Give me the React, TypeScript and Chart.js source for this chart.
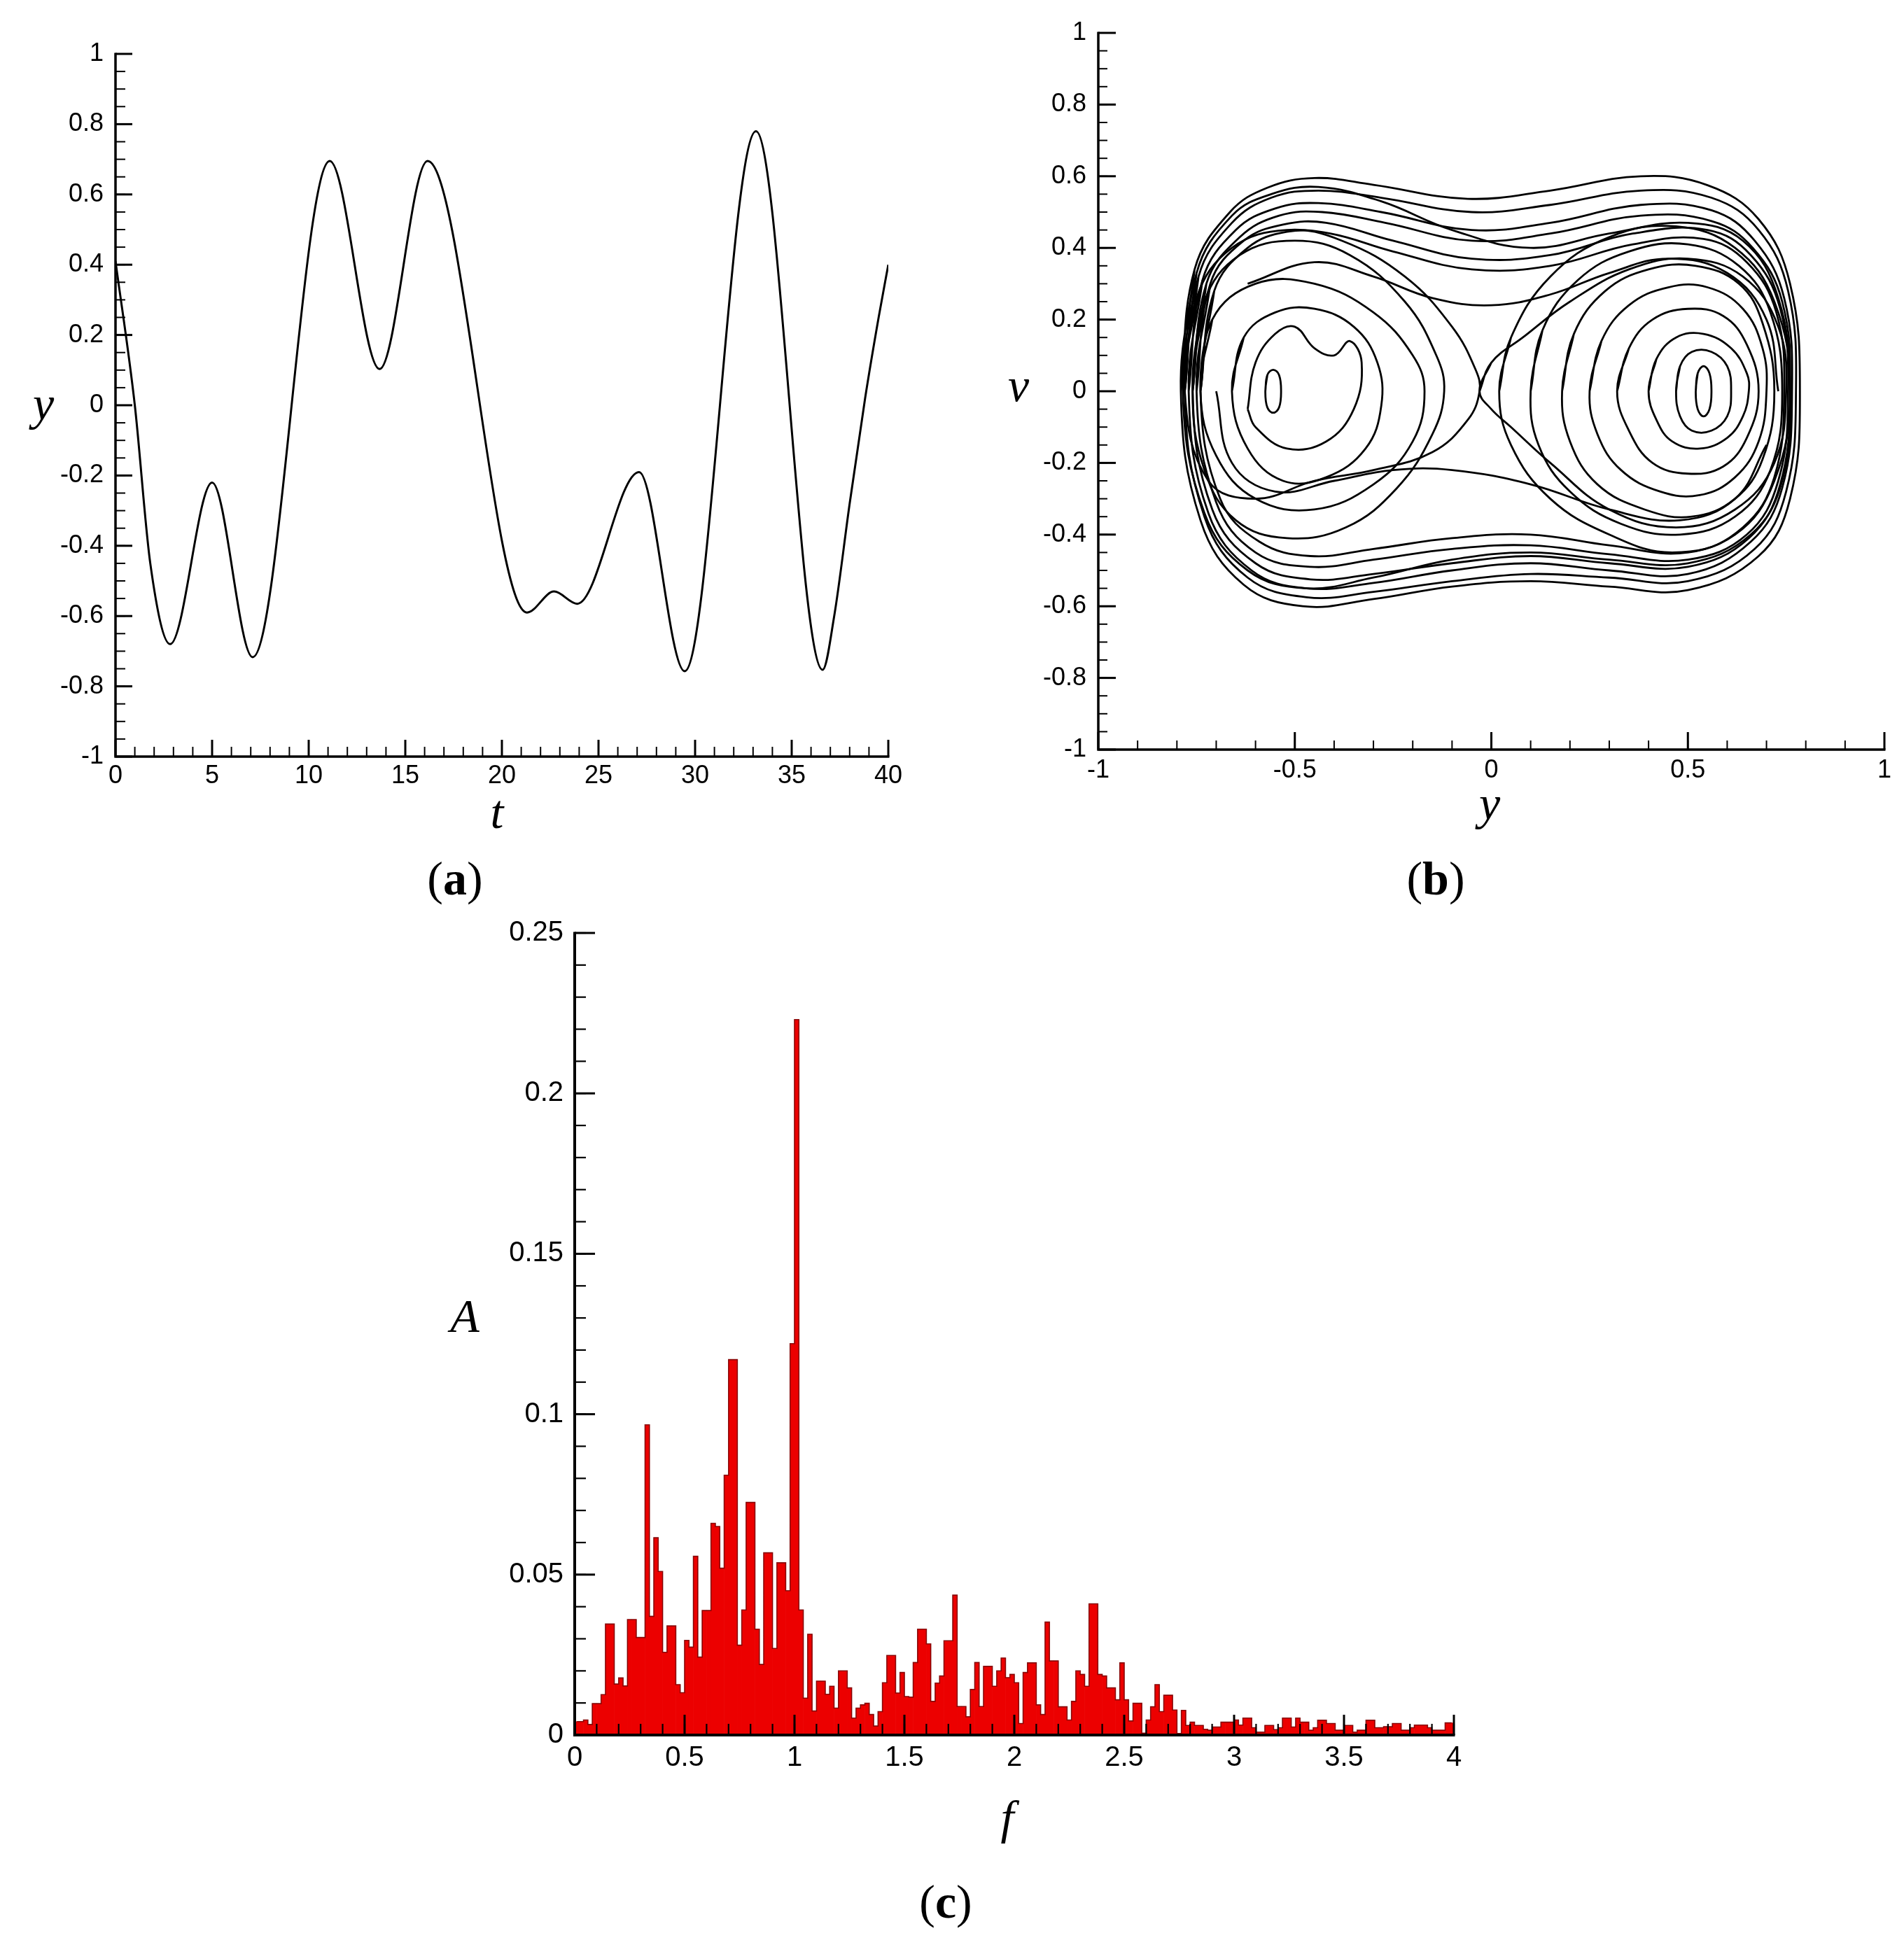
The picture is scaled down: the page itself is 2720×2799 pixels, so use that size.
import React, { useEffect, useRef } from 'react';
import { Chart, registerables } from 'chart.js';

Chart.register(...registerables);

const TICK_FONT = "'Liberation Sans Narrow', 'Arial Narrow', 'Liberation Sans', Arial, sans-serif";
const SERIF = "'Liberation Serif', 'Times New Roman', serif";

// ---------- Panel (a): time history y(t) ----------
const T_KNOTS = [0, 1.0, 1.8, 2.83, 5.0, 7.1, 11.09, 13.67, 16.15, 21.3, 22.7, 23.9, 27.1, 29.46, 33.15, 36.6, 37.2, 38.0, 38.8, 39.5, 40];
const Y_KNOTS = [0.41, 0.0, -0.45, -0.68, -0.22, -0.717, 0.695, 0.103, 0.695, -0.59, -0.53, -0.565, -0.19, -0.757, 0.78, -0.753, -0.6, -0.28, 0.02, 0.25, 0.4];
const A_X_TICKS = [0, 40, 5];
const A_Y_TICKS = [-1, 1, 0.2];

// ---------- Panel (b): phase portrait (y, v) ----------
const PEANUT_LOOPS: number[][][] = [
  [[-0.79, 0], [-0.755, 0.34], [-0.665, 0.5], [-0.57, 0.568], [-0.45, 0.595], [-0.3, 0.576], [-0.06, 0.537], [0.15, 0.56], [0.38, 0.6], [0.55, 0.575], [0.68, 0.48], [0.76, 0.3], [0.785, 0], [0.76, -0.3], [0.68, -0.46], [0.5, -0.555], [0.3, -0.545], [0.1, -0.53], [-0.1, -0.545], [-0.3, -0.58], [-0.48, -0.6], [-0.63, -0.54], [-0.74, -0.36], [-0.79, 0], [-0.755, 0.34]],
  [[-0.785, 0], [-0.75, 0.33], [-0.66, 0.49], [-0.56, 0.55], [-0.44, 0.57], [-0.28, 0.53], [-0.1, 0.45], [0.1, 0.4], [0.3, 0.44], [0.5, 0.47], [0.64, 0.42], [0.73, 0.26], [0.76, 0], [0.74, -0.25], [0.66, -0.4], [0.5, -0.48], [0.3, -0.47], [0.1, -0.45], [-0.1, -0.47], [-0.3, -0.52], [-0.47, -0.55], [-0.62, -0.5], [-0.73, -0.34], [-0.785, 0], [-0.75, 0.33]],
  [[-0.78, 0], [-0.745, 0.32], [-0.66, 0.47], [-0.56, 0.54], [-0.44, 0.56], [-0.28, 0.54], [-0.05, 0.5], [0.15, 0.52], [0.38, 0.56], [0.56, 0.54], [0.68, 0.45], [0.755, 0.28], [0.775, 0], [0.75, -0.28], [0.67, -0.44], [0.5, -0.53], [0.3, -0.52], [0.1, -0.51], [-0.1, -0.53], [-0.3, -0.56], [-0.47, -0.575], [-0.62, -0.52], [-0.73, -0.35], [-0.78, 0], [-0.745, 0.32]],
  [[-0.77, 0], [-0.735, 0.31], [-0.65, 0.45], [-0.55, 0.51], [-0.44, 0.525], [-0.28, 0.5], [-0.05, 0.45], [0.15, 0.47], [0.38, 0.52], [0.56, 0.505], [0.67, 0.42], [0.745, 0.26], [0.765, 0], [0.74, -0.27], [0.66, -0.42], [0.5, -0.51], [0.3, -0.5], [0.1, -0.48], [-0.1, -0.5], [-0.3, -0.535], [-0.47, -0.55], [-0.61, -0.5], [-0.72, -0.34], [-0.77, 0], [-0.735, 0.31]],
  [[-0.76, 0], [-0.725, 0.3], [-0.64, 0.43], [-0.54, 0.49], [-0.43, 0.5], [-0.27, 0.47], [-0.05, 0.42], [0.15, 0.44], [0.38, 0.49], [0.56, 0.475], [0.665, 0.4], [0.74, 0.25], [0.76, 0], [0.735, -0.26], [0.655, -0.41], [0.5, -0.49], [0.3, -0.48], [0.1, -0.46], [-0.1, -0.48], [-0.3, -0.51], [-0.46, -0.525], [-0.6, -0.48], [-0.71, -0.33], [-0.76, 0], [-0.725, 0.3]],
  [[-0.75, 0], [-0.715, 0.3], [-0.63, 0.42], [-0.53, 0.465], [-0.42, 0.47], [-0.25, 0.42], [-0.05, 0.37], [0.15, 0.38], [0.36, 0.44], [0.55, 0.45], [0.66, 0.38], [0.735, 0.23], [0.755, 0], [0.73, -0.25], [0.65, -0.4], [0.5, -0.47], [0.3, -0.455], [0.1, -0.43], [-0.1, -0.44], [-0.3, -0.47], [-0.46, -0.49], [-0.6, -0.45], [-0.7, -0.31], [-0.75, 0], [-0.715, 0.3]],
  [[-0.74, 0], [-0.705, 0.28], [-0.62, 0.4], [-0.52, 0.445], [-0.41, 0.44], [-0.25, 0.39], [-0.05, 0.34], [0.15, 0.35], [0.36, 0.41], [0.54, 0.425], [0.65, 0.36], [0.725, 0.22], [0.745, 0], [0.72, -0.24], [0.64, -0.38], [0.5, -0.45], [0.3, -0.43], [0.1, -0.4], [-0.1, -0.41], [-0.3, -0.44], [-0.46, -0.46], [-0.59, -0.42], [-0.69, -0.3], [-0.74, 0], [-0.705, 0.28]],
];
const LEFT_WELL_LOOPS: number[][][] = [
  [[-0.78, 0], [-0.75, 0.26], [-0.66, 0.4], [-0.52, 0.45], [-0.38, 0.42], [-0.22, 0.32], [-0.1, 0.18], [-0.04, 0.06], [-0.03, 0], [-0.06, -0.08], [-0.15, -0.17], [-0.3, -0.22], [-0.45, -0.25], [-0.6, -0.3], [-0.72, -0.25], [-0.78, 0], [-0.75, 0.26]],
  [[-0.76, 0], [-0.73, 0.25], [-0.64, 0.38], [-0.5, 0.42], [-0.36, 0.38], [-0.22, 0.25], [-0.14, 0.1], [-0.12, 0], [-0.15, -0.12], [-0.24, -0.27], [-0.37, -0.38], [-0.52, -0.41], [-0.65, -0.36], [-0.73, -0.22], [-0.76, 0], [-0.73, 0.25]],
  [[-0.74, 0], [-0.71, 0.2], [-0.6, 0.3], [-0.45, 0.3], [-0.3, 0.22], [-0.2, 0.1], [-0.17, 0], [-0.2, -0.14], [-0.3, -0.26], [-0.45, -0.33], [-0.6, -0.3], [-0.7, -0.18], [-0.74, 0], [-0.71, 0.2]],
  [[-0.66, 0], [-0.63, 0.15], [-0.55, 0.22], [-0.45, 0.23], [-0.35, 0.18], [-0.29, 0.08], [-0.28, -0.04], [-0.32, -0.16], [-0.42, -0.24], [-0.53, -0.25], [-0.62, -0.16], [-0.66, 0], [-0.63, 0.15]],
  [[-0.62, -0.05], [-0.6, 0.08], [-0.55, 0.16], [-0.5, 0.18], [-0.45, 0.12], [-0.4, 0.1], [-0.36, 0.14], [-0.33, 0.08], [-0.35, -0.05], [-0.42, -0.14], [-0.52, -0.16], [-0.6, -0.1], [-0.62, -0.05]],
  [[-0.575, 0], [-0.57, 0.045], [-0.555, 0.06], [-0.54, 0.045], [-0.535, 0], [-0.54, -0.045], [-0.555, -0.06], [-0.57, -0.045], [-0.575, 0], [-0.57, 0.045]],
];
const RIGHT_WELL_LOOPS: number[][][] = [
  [[-0.03, 0], [0.0, 0.08], [0.08, 0.15], [0.2, 0.25], [0.35, 0.34], [0.5, 0.37], [0.64, 0.32], [0.73, 0.18], [0.75, 0], [0.72, -0.2], [0.62, -0.33], [0.47, -0.38], [0.3, -0.33], [0.15, -0.2], [0.05, -0.1], [0.0, -0.05], [-0.03, 0], [0.0, 0.08]],
  [[0.02, 0], [0.05, 0.15], [0.15, 0.32], [0.3, 0.43], [0.47, 0.46], [0.62, 0.4], [0.72, 0.25], [0.76, 0], [0.72, -0.25], [0.62, -0.4], [0.46, -0.45], [0.3, -0.4], [0.15, -0.3], [0.05, -0.15], [0.02, 0], [0.05, 0.15]],
  [[0.1, 0], [0.13, 0.17], [0.22, 0.31], [0.35, 0.39], [0.5, 0.41], [0.63, 0.35], [0.71, 0.22], [0.74, 0], [0.71, -0.22], [0.62, -0.35], [0.48, -0.4], [0.33, -0.37], [0.2, -0.28], [0.12, -0.15], [0.1, 0], [0.13, 0.17]],
  [[0.18, 0], [0.21, 0.16], [0.29, 0.28], [0.4, 0.34], [0.52, 0.35], [0.63, 0.3], [0.69, 0.19], [0.72, 0], [0.69, -0.19], [0.62, -0.3], [0.51, -0.35], [0.39, -0.33], [0.27, -0.26], [0.2, -0.14], [0.18, 0], [0.21, 0.16]],
  [[0.25, 0], [0.28, 0.14], [0.35, 0.24], [0.45, 0.29], [0.55, 0.29], [0.64, 0.23], [0.69, 0.12], [0.7, 0], [0.68, -0.14], [0.62, -0.24], [0.53, -0.29], [0.43, -0.28], [0.33, -0.22], [0.27, -0.12], [0.25, 0], [0.28, 0.14]],
  [[0.32, 0], [0.35, 0.12], [0.41, 0.2], [0.5, 0.23], [0.59, 0.21], [0.65, 0.13], [0.68, 0], [0.65, -0.13], [0.59, -0.21], [0.5, -0.23], [0.41, -0.2], [0.35, -0.11], [0.32, 0], [0.35, 0.12]],
  [[0.4, 0], [0.42, 0.09], [0.47, 0.15], [0.54, 0.16], [0.61, 0.12], [0.65, 0.05], [0.655, 0], [0.64, -0.07], [0.6, -0.13], [0.53, -0.16], [0.46, -0.14], [0.42, -0.08], [0.4, 0], [0.42, 0.09]],
  [[0.47, 0], [0.48, 0.07], [0.51, 0.11], [0.56, 0.11], [0.6, 0.07], [0.61, 0], [0.6, -0.07], [0.56, -0.11], [0.51, -0.11], [0.48, -0.07], [0.47, 0], [0.48, 0.07]],
  [[0.52, 0], [0.525, 0.05], [0.54, 0.07], [0.555, 0.05], [0.56, 0], [0.555, -0.05], [0.54, -0.07], [0.525, -0.05], [0.52, 0], [0.525, 0.05]],
];
const TRANSIT_CURVES: number[][][] = [
  [[-0.62, 0.3], [-0.45, 0.36], [-0.3, 0.32], [-0.15, 0.26], [0, 0.24], [0.15, 0.27], [0.3, 0.33], [0.45, 0.37], [0.6, 0.33], [0.7, 0.2], [0.73, 0]],
  [[0.7, -0.15], [0.62, -0.3], [0.48, -0.36], [0.3, -0.33], [0.1, -0.26], [-0.1, -0.22], [-0.25, -0.22], [-0.4, -0.25], [-0.55, -0.28], [-0.66, -0.2], [-0.7, 0]],
];
const B_X_TICKS = [-1, 1, 0.5];
const B_Y_TICKS = [-1, 1, 0.2];

// ---------- Panel (c): amplitude spectrum A(f) ----------
const F_START = 0;
const F_BIN = 0.02;
const A_0_TO_1 = [
  0.0042, 0.0042, 0.0047, 0.0033, 0.0098, 0.0098, 0.0126, 0.0346, 0.0346, 0.0159,
  0.0178, 0.0153, 0.036, 0.036, 0.0304, 0.0304, 0.0967, 0.037, 0.0615, 0.051,
  0.0258, 0.034, 0.034, 0.0157, 0.0132, 0.0295, 0.0274, 0.0557, 0.0243, 0.0388,
  0.0388, 0.066, 0.065, 0.052, 0.081, 0.117, 0.117, 0.028, 0.039, 0.0725,
  0.0725, 0.033, 0.022, 0.0568, 0.0568, 0.027, 0.0537, 0.0537, 0.045, 0.122,
];
const A_1_TO_2 = [
  0.223, 0.039, 0.0115, 0.0314, 0.0075, 0.0168, 0.0168, 0.0127, 0.0152, 0.0084,
  0.02, 0.02, 0.0147, 0.0053, 0.0084, 0.0094, 0.0099, 0.0064, 0.0028, 0.0073,
  0.0163, 0.0248, 0.0248, 0.0131, 0.0195, 0.012, 0.0118, 0.0226, 0.033, 0.033,
  0.0284, 0.0105, 0.0162, 0.0184, 0.0294, 0.0294, 0.0436, 0.0089, 0.0089, 0.0057,
  0.0142, 0.0226, 0.0089, 0.0214, 0.0214, 0.0152, 0.02, 0.024, 0.0179, 0.0189,
];
const A_2_TO_3 = [
  0.0163, 0.0036, 0.0195, 0.0225, 0.0225, 0.0094, 0.0064, 0.0352, 0.0231, 0.0231,
  0.0088, 0.0088, 0.0047, 0.0105, 0.02, 0.0189, 0.0152, 0.0409, 0.0409, 0.0189,
  0.0184, 0.0147, 0.0147, 0.011, 0.0225, 0.011, 0.0044, 0.0099, 0.0099, 0.0006,
  0.0047, 0.0088, 0.0157, 0.0073, 0.0124, 0.0124, 0.0078, 0.0005, 0.0077, 0.003,
  0.004, 0.003, 0.003, 0.0018, 0.0015, 0.0025, 0.0025, 0.004, 0.004, 0.004,
];
const A_3_TO_4 = [
  0.0047, 0.0031, 0.0053, 0.0053, 0.0023, 0.0009, 0.0009, 0.003, 0.003, 0.0017,
  0.0023, 0.0053, 0.0053, 0.0025, 0.0053, 0.004, 0.004, 0.0015, 0.0023, 0.0046,
  0.0046, 0.0036, 0.0036, 0.0015, 0.0015, 0.003, 0.003, 0.0009, 0.0015, 0.0015,
  0.0046, 0.0046, 0.0023, 0.0023, 0.0026, 0.0026, 0.0036, 0.0036, 0.0015, 0.0015,
  0.0023, 0.0031, 0.0031, 0.0031, 0.0023, 0.0015, 0.0015, 0.0015, 0.0038, 0.0038,
];
const C_X_TICKS = [0, 4, 0.5];
const C_Y_TICKS = [0, 0.25, 0.05];

// ---------- helpers ----------
const fmt = (v: number) => String(Math.round(v * 1000) / 1000);

const frameTicks = {
  id: 'frameTicks',
  afterDatasetsDraw(chart: any, _args: any, o: any) {
    const { ctx, chartArea } = chart;
    const { left, right, top, bottom } = chartArea;
    const xs = chart.scales.x;
    const ys = chart.scales.y;
    const list = (sc: any, step: number) => {
      const n = Math.round((sc.max - sc.min) / step);
      const out: number[] = [];
      for (let i = 0; i <= n; i++) out.push(sc.min + i * step);
      return out;
    };
    const seg = (x1: number, y1: number, x2: number, y2: number, w: number) => {
      ctx.lineWidth = w;
      ctx.beginPath();
      ctx.moveTo(x1, y1);
      ctx.lineTo(x2, y2);
      ctx.stroke();
    };
    ctx.save();
    ctx.strokeStyle = '#000';
    ctx.lineCap = 'butt';
    for (const v of list(xs, o.xMinor)) {
      const px = xs.getPixelForValue(v);
      seg(px, bottom, px, bottom - o.minorLen, o.minorWidth);
    }
    for (const v of list(ys, o.yMinor)) {
      const py = ys.getPixelForValue(v);
      seg(left, py, left + o.minorLen, py, o.minorWidth);
    }
    for (const t of xs.ticks) {
      const px = xs.getPixelForValue(t.value);
      seg(px, bottom, px, bottom - o.majorLen, o.majorWidth);
    }
    for (const t of ys.ticks) {
      const py = ys.getPixelForValue(t.value);
      seg(left, py, left + o.majorLen, py, o.majorWidth);
    }
    ctx.lineWidth = o.axisWidth;
    ctx.lineJoin = 'miter';
    ctx.beginPath();
    ctx.moveTo(left, top - o.majorWidth / 2);
    ctx.lineTo(left, bottom);
    ctx.lineTo(right + o.majorWidth / 2, bottom);
    ctx.stroke();
    ctx.restore();
  },
};

function axis(range: number[], size: number, pad: number, fontSize: number, isX: boolean) {
  return {
    type: 'linear',
    min: range[0],
    max: range[1],
    offset: false,
    afterFit: (s: any) => {
      if (isX) s.height = size;
      else s.width = size;
    },
    grid: { display: false, drawTicks: false },
    border: { display: false },
    ticks: {
      stepSize: range[2],
      autoSkip: false,
      maxRotation: 0,
      minRotation: 0,
      padding: pad,
      color: '#000',
      font: { family: TICK_FONT, size: fontSize },
      callback: (v: any) => fmt(Number(v)),
    },
  };
}

const baseOptions = (padding: any, tickOpts: any, scales: any) => ({
  animation: false,
  responsive: false,
  maintainAspectRatio: false,
  devicePixelRatio: 1,
  layout: { padding },
  events: [],
  plugins: {
    legend: { display: false },
    tooltip: { enabled: false },
    title: { display: false },
    frameTicks: tickOpts,
  },
  scales,
});

function makeA() {
  return {
    type: 'scatter',
    data: {
      datasets: [
        {
          data: T_KNOTS.map((t, i) => ({ x: t, y: Y_KNOTS[i] })),
          showLine: true,
          cubicInterpolationMode: 'monotone',
          borderColor: '#000',
          borderWidth: 3,
          pointRadius: 0,
          fill: false,
        },
      ],
    },
    options: baseOptions(
      { left: 0, top: 77, right: 61, bottom: 19 },
      { xMinor: 1, yMinor: 0.05, majorLen: 24, minorLen: 14, majorWidth: 3, minorWidth: 2, axisWidth: 3.5 },
      { x: axis(A_X_TICKS, 60, 6, 36, true), y: axis(A_Y_TICKS, 165, 17, 36, false) }
    ),
    plugins: [frameTicks],
  };
}

function makeB() {
  const groups = [...PEANUT_LOOPS, ...LEFT_WELL_LOOPS, ...RIGHT_WELL_LOOPS, ...TRANSIT_CURVES];
  return {
    type: 'scatter',
    data: {
      datasets: groups.map((loop) => ({
        data: loop.map((p) => ({ x: p[0], y: p[1] })),
        showLine: true,
        tension: 0.4,
        borderColor: '#000',
        borderWidth: 2.8,
        pointRadius: 0,
        fill: false,
      })),
    },
    options: baseOptions(
      { left: 0, top: 47, right: 28, bottom: 29 },
      { xMinor: 0.1, yMinor: 0.05, majorLen: 25, minorLen: 13, majorWidth: 3, minorWidth: 2, axisWidth: 3.5 },
      { x: axis(B_X_TICKS, 60, 8, 36, true), y: axis(B_Y_TICKS, 169, 17, 36, false) }
    ),
    plugins: [frameTicks],
  };
}

function makeC() {
  const amps = [...A_0_TO_1, ...A_1_TO_2, ...A_2_TO_3, ...A_3_TO_4];
  const pts = amps.map((a, i) => ({ x: F_START + (i + 0.5) * F_BIN, y: a }));
  return {
    type: 'bar',
    data: {
      datasets: [
        {
          type: 'line',
          data: pts,
          stepped: 'middle',
          borderColor: 'rgba(120,0,0,0.85)',
          borderWidth: 1.6,
          pointRadius: 0,
          fill: false,
          order: 0,
        },
        {
          data: pts,
          backgroundColor: 'rgb(236,0,0)',
          borderWidth: 0,
          barPercentage: 1,
          categoryPercentage: 1,
          order: 1,
        },
      ],
    },
    options: baseOptions(
      { left: 0, top: 73, right: 123, bottom: 21 },
      { xMinor: 0.1, yMinor: 0.01, majorLen: 29, minorLen: 16, majorWidth: 3, minorWidth: 2.2, axisWidth: 4 },
      { x: axis(C_X_TICKS, 60, 9, 40, true), y: axis(C_Y_TICKS, 221, 16, 40, false) }
    ),
    plugins: [frameTicks],
  };
}

function ChartCanvas({ x, y, w, h, make }: { x: number; y: number; w: number; h: number; make: () => any }) {
  const ref = useRef<HTMLCanvasElement>(null);
  useEffect(() => {
    const chart = new Chart(ref.current as HTMLCanvasElement, make());
    return () => chart.destroy();
  }, []);
  return (
    <canvas
      ref={ref}
      width={w}
      height={h}
      style={{ position: 'absolute', left: x, top: y, width: w, height: h }}
    />
  );
}

function Label({ x, y, children, italic = true, size = 68 }: any) {
  return (
    <div
      style={{
        position: 'absolute',
        left: x,
        top: y,
        transform: 'translate(-50%, -50%)',
        fontFamily: SERIF,
        fontStyle: italic ? 'italic' : 'normal',
        fontSize: size,
        lineHeight: 1,
        whiteSpace: 'nowrap',
        color: '#000',
      }}
    >
      {children}
    </div>
  );
}

export default function App() {
  return (
    <div
      style={{
        position: 'absolute',
        left: 0,
        top: 0,
        width: 2720,
        height: 2799,
        background: '#fff',
        overflow: 'hidden',
      }}
    >
      <ChartCanvas x={0} y={0} w={1330} h={1160} make={makeA} />
      <ChartCanvas x={1400} y={0} w={1320} h={1160} make={makeB} />
      <ChartCanvas x={600} y={1260} w={1600} h={1300} make={makeC} />

      <Label x={62} y={577}>y</Label>
      <Label x={710} y={1160}>t</Label>
      <Label x={650} y={1255} italic={false}>(<b>a</b>)</Label>

      <Label x={1455} y={550}>v</Label>
      <Label x={2128} y={1148}>y</Label>
      <Label x={2051} y={1255} italic={false}>(<b>b</b>)</Label>

      <Label x={664} y={1880}>A</Label>
      <Label x={1439} y={2597}>f</Label>
      <Label x={1351} y={2717} italic={false}>(<b>c</b>)</Label>
    </div>
  );
}
